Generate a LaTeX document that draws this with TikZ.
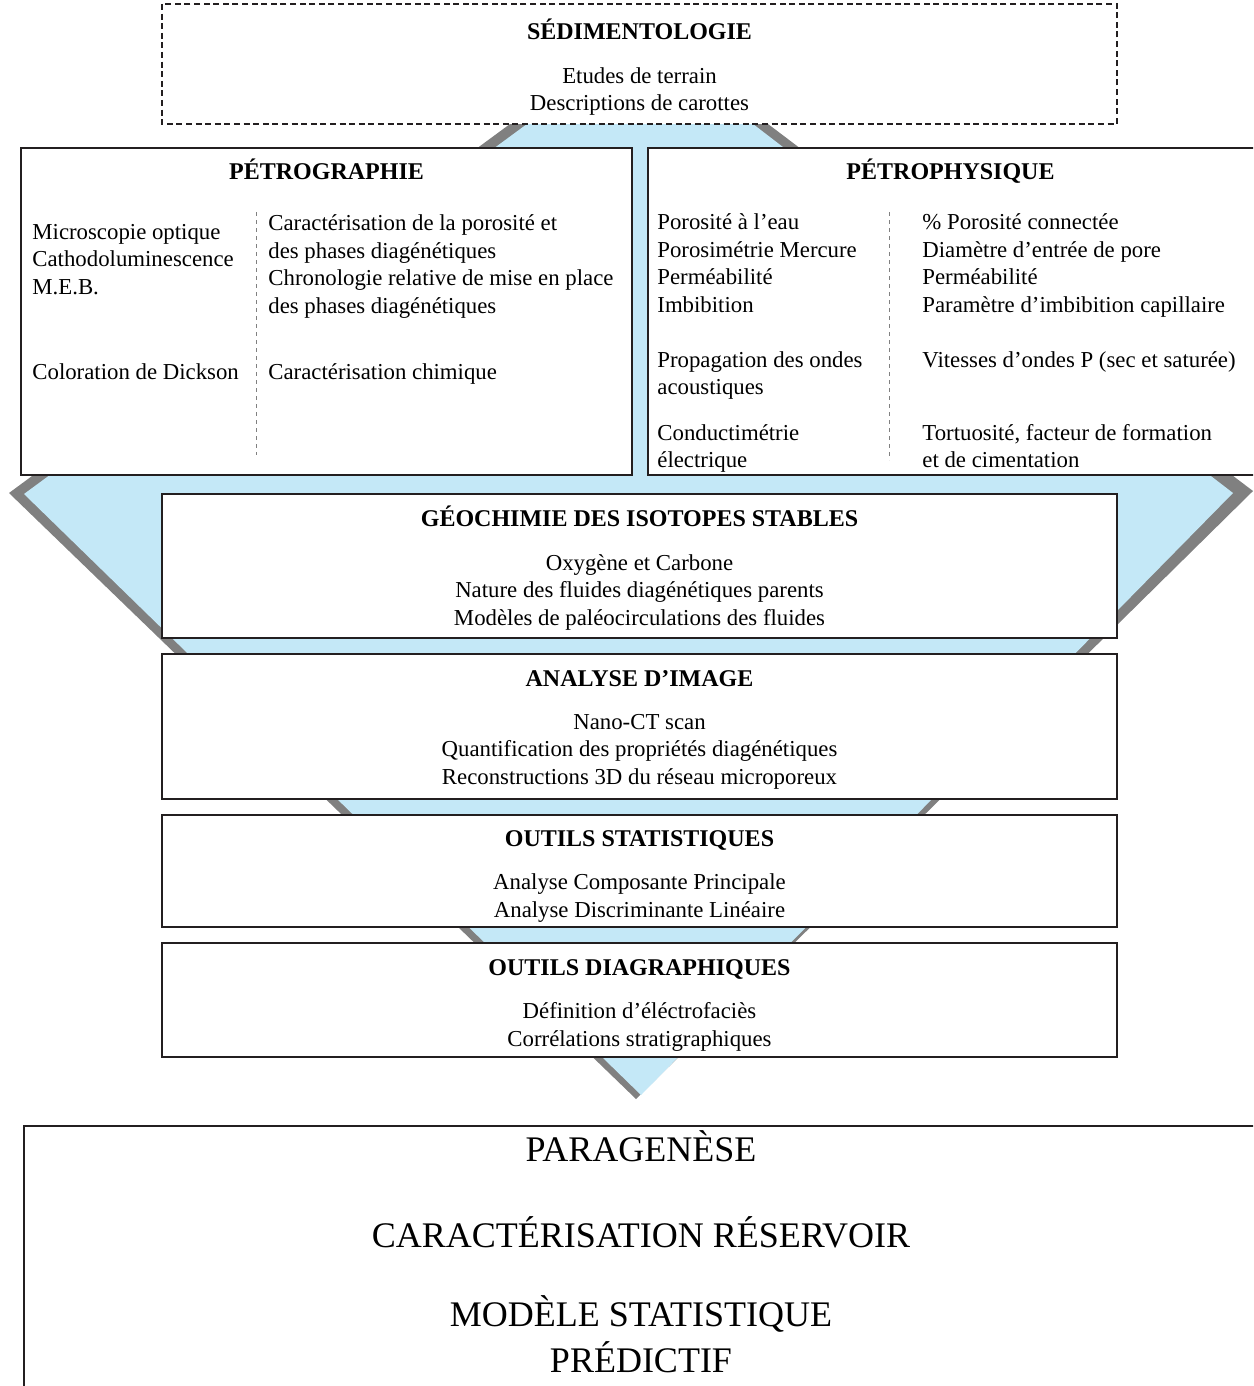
\documentclass[tikz,border=0pt]{standalone}
\usepackage{fontspec}
\setmainfont{Liberation Serif}
\definecolor{funnelblue}{RGB}{196,232,247}
\definecolor{funnelgray}{RGB}{128,128,128}
\definecolor{boxline}{RGB}{35,31,32}

\begin{document}
\begin{tikzpicture}[
    box/.style={draw=boxline, line width=1pt, fill=white},
    dashbox/.style={draw=boxline, line width=0.8pt, fill=white, dash pattern=on 3pt off 1.8pt},
    sepline/.style={draw=gray, line width=0.5pt, dash pattern=on 2pt off 2pt},
    heading/.style={anchor=base, inner sep=0pt, font=\fontsize{12}{14}\selectfont\bfseries},
    body/.style={anchor=base, inner sep=0pt, align=center, font=\fontsize{11.4}{13.7}\selectfont},
    bodyleft/.style={body, anchor=base west, align=left},
    big/.style={anchor=base, inner sep=0pt, align=center, font=\fontsize{18}{23}\selectfont}]
    \begin{scope}[x=0.5pt, y=-0.5pt]
        % Page
        \useasboundingbox (0,0) rectangle (1253,1386);
        \clip (0,0) rectangle (1253,1386);
        % Funnel behind the boxes (multi-line nodes sit on their last line)
        \fill[funnelgray] (510,124) -- (768,124) -- (1253,491) -- (636,1099) -- (9,493) -- cycle;
        \fill[funnelblue] (527,124) -- (753,124) -- (1233,493) -- (641,1095) -- (24,494) -- cycle;

        % Sedimentologie
        \draw[dashbox] (162,4) rectangle (1117,124);
        \node[heading] (sedtitle) at (639.5,40) {SÉDIMENTOLOGIE};
        \node[body] (sedtext) at (639.5,111) {Etudes de terrain\\Descriptions de carottes};

        % Petrographie
        \draw[box] (21,148) rectangle (632,475);
        \node[heading] (petrotitle) at (326.5,179) {PÉTROGRAPHIE};
        \node[bodyleft] (petromethods) at (32,294) {Microscopie optique\\Cathodoluminescence\\M.E.B.};
        \node[bodyleft] (petrodickson) at (32,379) {Coloration de Dickson};
        \node[bodyleft] (petroresults) at (268,313) {Caractérisation de la porosité et\\des phases diagénétiques\\Chronologie relative de mise en place\\des phases diagénétiques};
        \node[bodyleft] (petrochim) at (268,379) {Caractérisation chimique};
        \draw[sepline] (256,212) -- (256,455);

        % Petrophysique
        \draw[box] (648,148) rectangle (1258,475);
        \node[heading] (phystitle) at (950.5,179) {PÉTROPHYSIQUE};
        \node[bodyleft] (physmethods) at (657,312) {Porosité à l’eau\\Porosimétrie Mercure\\Perméabilité\\Imbibition};
        \node[bodyleft] (physacoust) at (657,394.5) {Propagation des ondes\\acoustiques};
        \node[bodyleft] (physelec) at (657,467.5) {Conductimétrie\\électrique};
        \node[bodyleft] (physresults) at (922,312) {\% Porosité connectée\\Diamètre d’entrée de pore\\Perméabilité\\Paramètre d’imbibition capillaire};
        \node[bodyleft] (physvp) at (922,367) {Vitesses d’ondes P (sec et saturée)};
        \node[bodyleft] (physform) at (922,467.5) {Tortuosité, facteur de formation\\et de cimentation};
        \draw[sepline] (889,212) -- (889,460);

        % Geochimie
        \draw[box] (162,494) rectangle (1117,638);
        \node[heading] (geotitle) at (639.5,526) {GÉOCHIMIE DES ISOTOPES STABLES};
        \node[body] (geotext) at (639.5,625) {Oxygène et Carbone\\Nature des fluides diagénétiques parents\\Modèles de paléocirculations des fluides};

        % Analyse d'image
        \draw[box] (162,654) rectangle (1117,799);
        \node[heading] (imgtitle) at (639.5,686) {ANALYSE D’IMAGE};
        \node[body] (imgtext) at (639.5,784) {Nano-CT scan\\Quantification des propriétés diagénétiques\\Reconstructions 3D du réseau microporeux};

        % Outils statistiques
        \draw[box] (162,815) rectangle (1117,927);
        \node[heading] (stattitle) at (639.5,846) {OUTILS STATISTIQUES};
        \node[body] (stattext) at (639.5,917) {Analyse Composante Principale\\Analyse Discriminante Linéaire};

        % Outils diagraphiques
        \draw[box] (162,943) rectangle (1117,1057);
        \node[heading] (logtitle) at (639.5,975) {OUTILS DIAGRAPHIQUES};
        \node[body] (logtext) at (639.5,1046) {Définition d’éléctrofaciès\\Corrélations stratigraphiques};

        % Result box
        \draw[box] (24,1126) rectangle (1270,1400);
        \node[big] (paragenese) at (641,1161) {PARAGENÈSE};
        \node[big] (reservoir) at (641,1247) {CARACTÉRISATION RÉSERVOIR};
        \node[big] (modele) at (641,1372) {MODÈLE STATISTIQUE\\PRÉDICTIF};
    \end{scope}
\end{tikzpicture}
\end{document}
